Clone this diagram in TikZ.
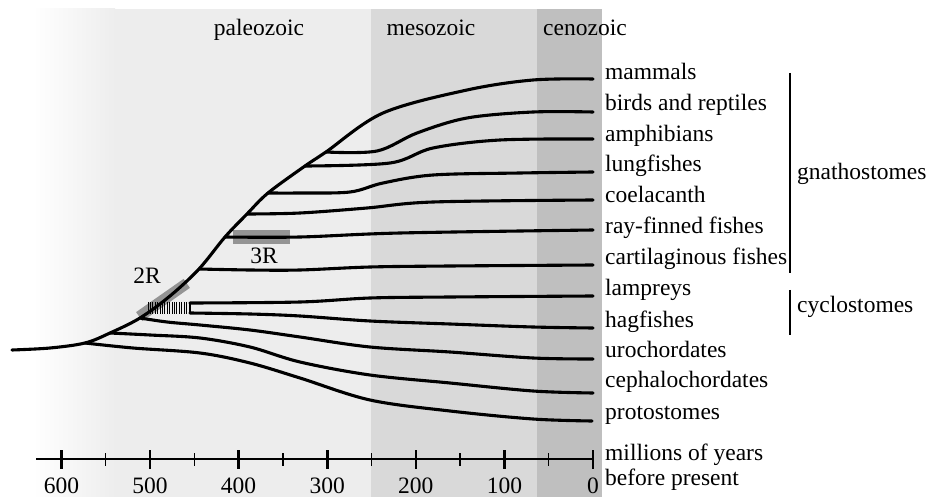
\documentclass[tikz,border=0pt]{standalone}
\usepackage{fontspec}
\setmainfont{Liberation Serif}
\usepackage{tikz}
\usetikzlibrary{
  calc,
  positioning
}
\definecolor{EraPaleo}{gray}{0.93}
\definecolor{EraMeso}{gray}{0.85}
\definecolor{EraCeno}{gray}{0.75}
\definecolor{DupBar}{gray}{0.58}
\tikzset{
  every picture/.style = {line join=round, line cap=round},
  every node/.style = {font=\fontsize{23.5}{28}\selectfont, text=black, inner sep=0pt},
  lineage/.style = {draw=black, line width=3.1pt},
  hatch line/.style = {draw=black, line width=0.9pt, line cap=butt},
  dup bar/.style = {fill=DupBar, draw=none},
  taxon/.style = {anchor=base west},
  era label/.style = {anchor=base},
  axis line/.style = {draw=black, line width=2.6pt, line cap=butt},
  tick major/.style = {draw=black, line width=2.6pt, line cap=butt},
  tick minor/.style = {draw=black, line width=1.4pt, line cap=butt},
  group bar/.style = {draw=black, line width=1.1pt, line cap=butt},
}

\begin{document}
\begin{tikzpicture}[x=1pt,y=-1pt]
  \useasboundingbox (0,0) rectangle (930,497);

  % era backgrounds
  \shade[left color=white, right color=EraPaleo] (33,9) rectangle (115,497);
  \fill[EraPaleo] (114.5,9) rectangle (371,497);
  \fill[EraMeso] (371,9) rectangle (537,497);
  \fill[EraCeno] (537,9) rectangle (602,497);

  \node[era label] (paleo) at (259,36) {paleozoic};
  \node[era label] (meso) at (431,36) {mesozoic};
  \node[era label, anchor=base west] (ceno) at (543,36) {cenozoic};

  % duplication marks
  \node[dup bar, minimum width=58pt, minimum height=11pt, rotate=35] (tworbar) at (163,300) {};
  \node[dup bar, minimum width=57pt, minimum height=14pt] (threerbar) at (261.5,237) {};
  \node[anchor=base] (twor) at (147,284) {2R};
  \node[anchor=base] (threer) at (264,264) {3R};

  % branch points and tips
  \coordinate (root) at (12,350);
  \coordinate (bProto) at (85,343);
  \coordinate (bCeph) at (110,333);
  \coordinate (bUro) at (140,318);
  \coordinate (bCart) at (199,269);
  \coordinate (bRay) at (225,237);
  \coordinate (bCoel) at (247,214);
  \coordinate (bLung) at (268,193);
  \coordinate (bAmph) at (305,166);
  \coordinate (bBird) at (326,152);
  \coordinate (sLamp) at (190,303);
  \coordinate (sHag) at (190,313);

  \coordinate (eMam) at (593,79);
  \coordinate (eBird) at (593,112);
  \coordinate (eAmph) at (593,139);
  \coordinate (eLung) at (593,172);
  \coordinate (eCoel) at (593,200);
  \coordinate (eRay) at (593,230);
  \coordinate (eCart) at (593,265);
  \coordinate (eLamp) at (593,296);
  \coordinate (eHag) at (593,328);
  \coordinate (eUro) at (593,359);
  \coordinate (eCeph) at (593,393);
  \coordinate (eProto) at (592,421);

  % backbone up to mammals
  \draw[lineage] plot[smooth, tension=0.55] coordinates {(root) (50,348) (bProto) (bCeph) (bUro) (170,296) (bCart) (bRay) (bCoel) (bLung) (bAmph) (bBird) (383,113) (467,90) (533,80) (eMam)};

  \draw[lineage] plot[smooth, tension=0.55] coordinates {(bBird) (377,151) (417,133) (467,118) (533,112) (eBird)};
  \draw[lineage] plot[smooth, tension=0.55] coordinates {(bAmph) (390,163) (433,148) (500,140) (eAmph)};
  \draw[lineage] plot[smooth, tension=0.55] coordinates {(bLung) (300,193) (350,192) (383,183) (433,175) (520,173) (eLung)};
  \draw[lineage] plot[smooth, tension=0.55] coordinates {(bCoel) (300,213) (367,208) (433,202) (eCoel)};
  \draw[lineage] plot[smooth, tension=0.55] coordinates {(bRay) (300,237) (400,233) (eRay)};
  \draw[lineage] plot[smooth, tension=0.55] coordinates {(bCart) (250,270) (300,270) (370,267) (450,266) (eCart)};
  \draw[lineage] plot[smooth, tension=0.55] coordinates {(sLamp) (300,302) (370,298) (450,297) (eLamp)};
  \draw[lineage] plot[smooth, tension=0.55] coordinates {(sHag) (250,314) (300,316) (370,321) (450,324) (533,327) (eHag)};
  \draw[lineage] plot[smooth, tension=0.55] coordinates {(bUro) (167,322) (200,325) (250,330) (300,337) (370,347) (450,352) (533,358) (eUro)};
  \draw[lineage] plot[smooth, tension=0.55] coordinates {(bCeph) (150,335) (200,338) (250,347) (300,362) (370,375) (450,383) (533,391) (eCeph)};
  \draw[lineage] plot[smooth, tension=0.55] coordinates {(bProto) (133,348) (200,353) (250,363) (300,378) (370,400) (450,411) (533,419) (eProto)};

  % cyclostome divergence
  \foreach \hx in {148,150.4,...,188}
    \draw[hatch line] (\hx,302) -- (\hx,314);
  \draw[hatch line, line width=1.6pt] (sLamp) -- (sHag);

  % taxa
  \node[taxon] (mam) at (605,80) {mammals};
  \node[taxon] (bird) at (605,111) {birds and reptiles};
  \node[taxon] (amph) at (605,142) {amphibians};
  \node[taxon] (lung) at (605,172) {lungfishes};
  \node[taxon] (coel) at (605,203) {coelacanth};
  \node[taxon] (ray) at (605,234) {ray-finned fishes};
  \node[taxon] (cart) at (605,265) {cartilaginous fishes};
  \node[taxon] (lamp) at (605,296) {lampreys};
  \node[taxon] (hag) at (605,327) {hagfishes};
  \node[taxon] (uro) at (605,357) {urochordates};
  \node[taxon] (ceph) at (605,388) {cephalochordates};
  \node[taxon] (proto) at (605,419) {protostomes};

  % groups
  \coordinate (gTop) at (790,73);
  \coordinate (gBot) at (790,273);
  \coordinate (cTop) at (790,290);
  \coordinate (cBot) at (790,335);
  \draw[group bar] (gTop) -- (gBot);
  \draw[group bar] (cTop) -- (cBot);
  \node[taxon] (gnatho) at (797,180) {gnathostomes};
  \node[taxon] (cyclo) at (797,313) {cyclostomes};

  % time axis
  \coordinate (axisL) at (36,459);
  \coordinate (axisR) at (593,459);
  \draw[axis line] (axisL) -- (axisR);
  \foreach \t in {600,500,...,0}{
    \pgfmathsetmacro\tx{593-0.886*\t}
    \draw[tick major] (\tx,450) -- (\tx,469);
    \node[anchor=base] (lab\t) at (\tx,493) {\t};
  }
  \foreach \t in {550,450,...,50}{
    \pgfmathsetmacro\tx{593-0.886*\t}
    \draw[tick minor] (\tx,453) -- (\tx,466);
  }
  \node[taxon] (myr) at (605,460) {millions of years};
  \node[taxon] (bp) at (605,485) {before present};
\end{tikzpicture}
\end{document}
